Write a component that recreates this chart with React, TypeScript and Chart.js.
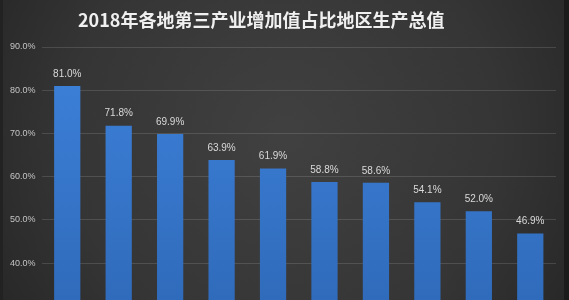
import React, { useEffect, useRef } from "react";
import { Chart, registerables } from "chart.js";

Chart.register(...registerables);

const titleText = "2018年各地第三产业增加值占比地区生产总值";
const categories = ["地区1", "地区2", "地区3", "地区4", "地区5", "地区6", "地区7", "地区8", "地区9", "地区10"];
const values = [81.0, 71.8, 69.9, 63.9, 61.9, 58.8, 58.6, 54.1, 52.0, 46.9];
const yTickValues = [40, 50, 60, 70, 80, 90];
const yMin = 31.5;
const yMax = 90;

export default function App() {
  const ref = useRef<HTMLCanvasElement | null>(null);

  useEffect(() => {
    const canvas = ref.current;
    if (!canvas) return;

    const bgPlugin = {
      id: "bg",
      beforeDraw(chart: any) {
        const { ctx, width, height } = chart;
        ctx.save();
        const g = ctx.createRadialGradient(width * 0.5, height * 0.45, 10, width * 0.5, height * 0.45, width * 0.62);
        g.addColorStop(0, "#404040");
        g.addColorStop(0.6, "#353535");
        g.addColorStop(1, "#252525");
        ctx.fillStyle = g;
        ctx.fillRect(0, 0, width, height);
        ctx.fillStyle = "#1b1b1b";
        ctx.fillRect(width - 5, 0, 5, height);
        ctx.fillStyle = "#222";
        ctx.fillRect(0, 0, 3, height);
        ctx.restore();
      },
    };

    const titlePlugin = {
      id: "customTitle",
      afterDraw(chart: any) {
        const { ctx, width } = chart;
        ctx.save();
        ctx.font = "bold 18px 'Noto Sans CJK SC', sans-serif";
        ctx.fillStyle = "#f0f0f0";
        ctx.textAlign = "center";
        ctx.textBaseline = "middle";
        ctx.fillText(titleText, width * 0.459, 20);
        ctx.restore();
      },
    };

    const labelPlugin = {
      id: "valueLabels",
      afterDatasetsDraw(chart: any) {
        const { ctx } = chart;
        const meta = chart.getDatasetMeta(0);
        ctx.save();
        ctx.font = "10px 'Liberation Sans', sans-serif";
        ctx.fillStyle = "#d9d9d9";
        ctx.textAlign = "center";
        ctx.textBaseline = "bottom";
        meta.data.forEach((bar: any, i: number) => {
          ctx.fillText(values[i].toFixed(1) + "%", bar.x, bar.y - 7);
        });
        ctx.restore();
      },
    };

    const chart = new Chart(canvas, {
      type: "bar",
      data: {
        labels: categories,
        datasets: [
          {
            data: values,
            backgroundColor: (c: any) => {
              const area = c.chart.chartArea;
              if (!area) return "#3a7cd5";
              const g = c.chart.ctx.createLinearGradient(0, area.top, 0, area.bottom);
              g.addColorStop(0, "#3d82db");
              g.addColorStop(1, "#306bbb");
              return g;
            },
            borderWidth: 0,
            categoryPercentage: 1,
            barPercentage: 0.51,
          },
        ],
      },
      options: {
        responsive: false,
        animation: false,
        devicePixelRatio: 1,
        layout: { padding: { top: 47, left: 4, right: 13, bottom: 0 } },
        plugins: {
          legend: { display: false },
          title: { display: false },
          tooltip: { enabled: false },
        },
        scales: {
          x: { display: false },
          y: {
            min: yMin,
            max: yMax,
            afterBuildTicks: (scale: any) => {
              scale.ticks = yTickValues.map((v) => ({ value: v }));
            },
            afterFit: (scale: any) => {
              scale.paddingTop = 0;
              scale.paddingBottom = 0;
            },
            grid: { color: "rgba(255,255,255,0.13)", drawTicks: false, lineWidth: 1 },
            border: { display: false },
            ticks: {
              color: "#c4c4c4",
              font: { size: 9, family: "'Liberation Sans', sans-serif" },
              padding: 6,
              callback: (v: any) => Number(v).toFixed(1) + "%",
            },
          },
        },
      },
      plugins: [bgPlugin, titlePlugin, labelPlugin],
    });

    return () => chart.destroy();
  }, []);

  return (
    <div style={{ position: "fixed", left: 0, top: 0, width: 569, height: 300 }}>
      <canvas ref={ref} width={569} height={300} style={{ display: "block" }} />
    </div>
  );
}
